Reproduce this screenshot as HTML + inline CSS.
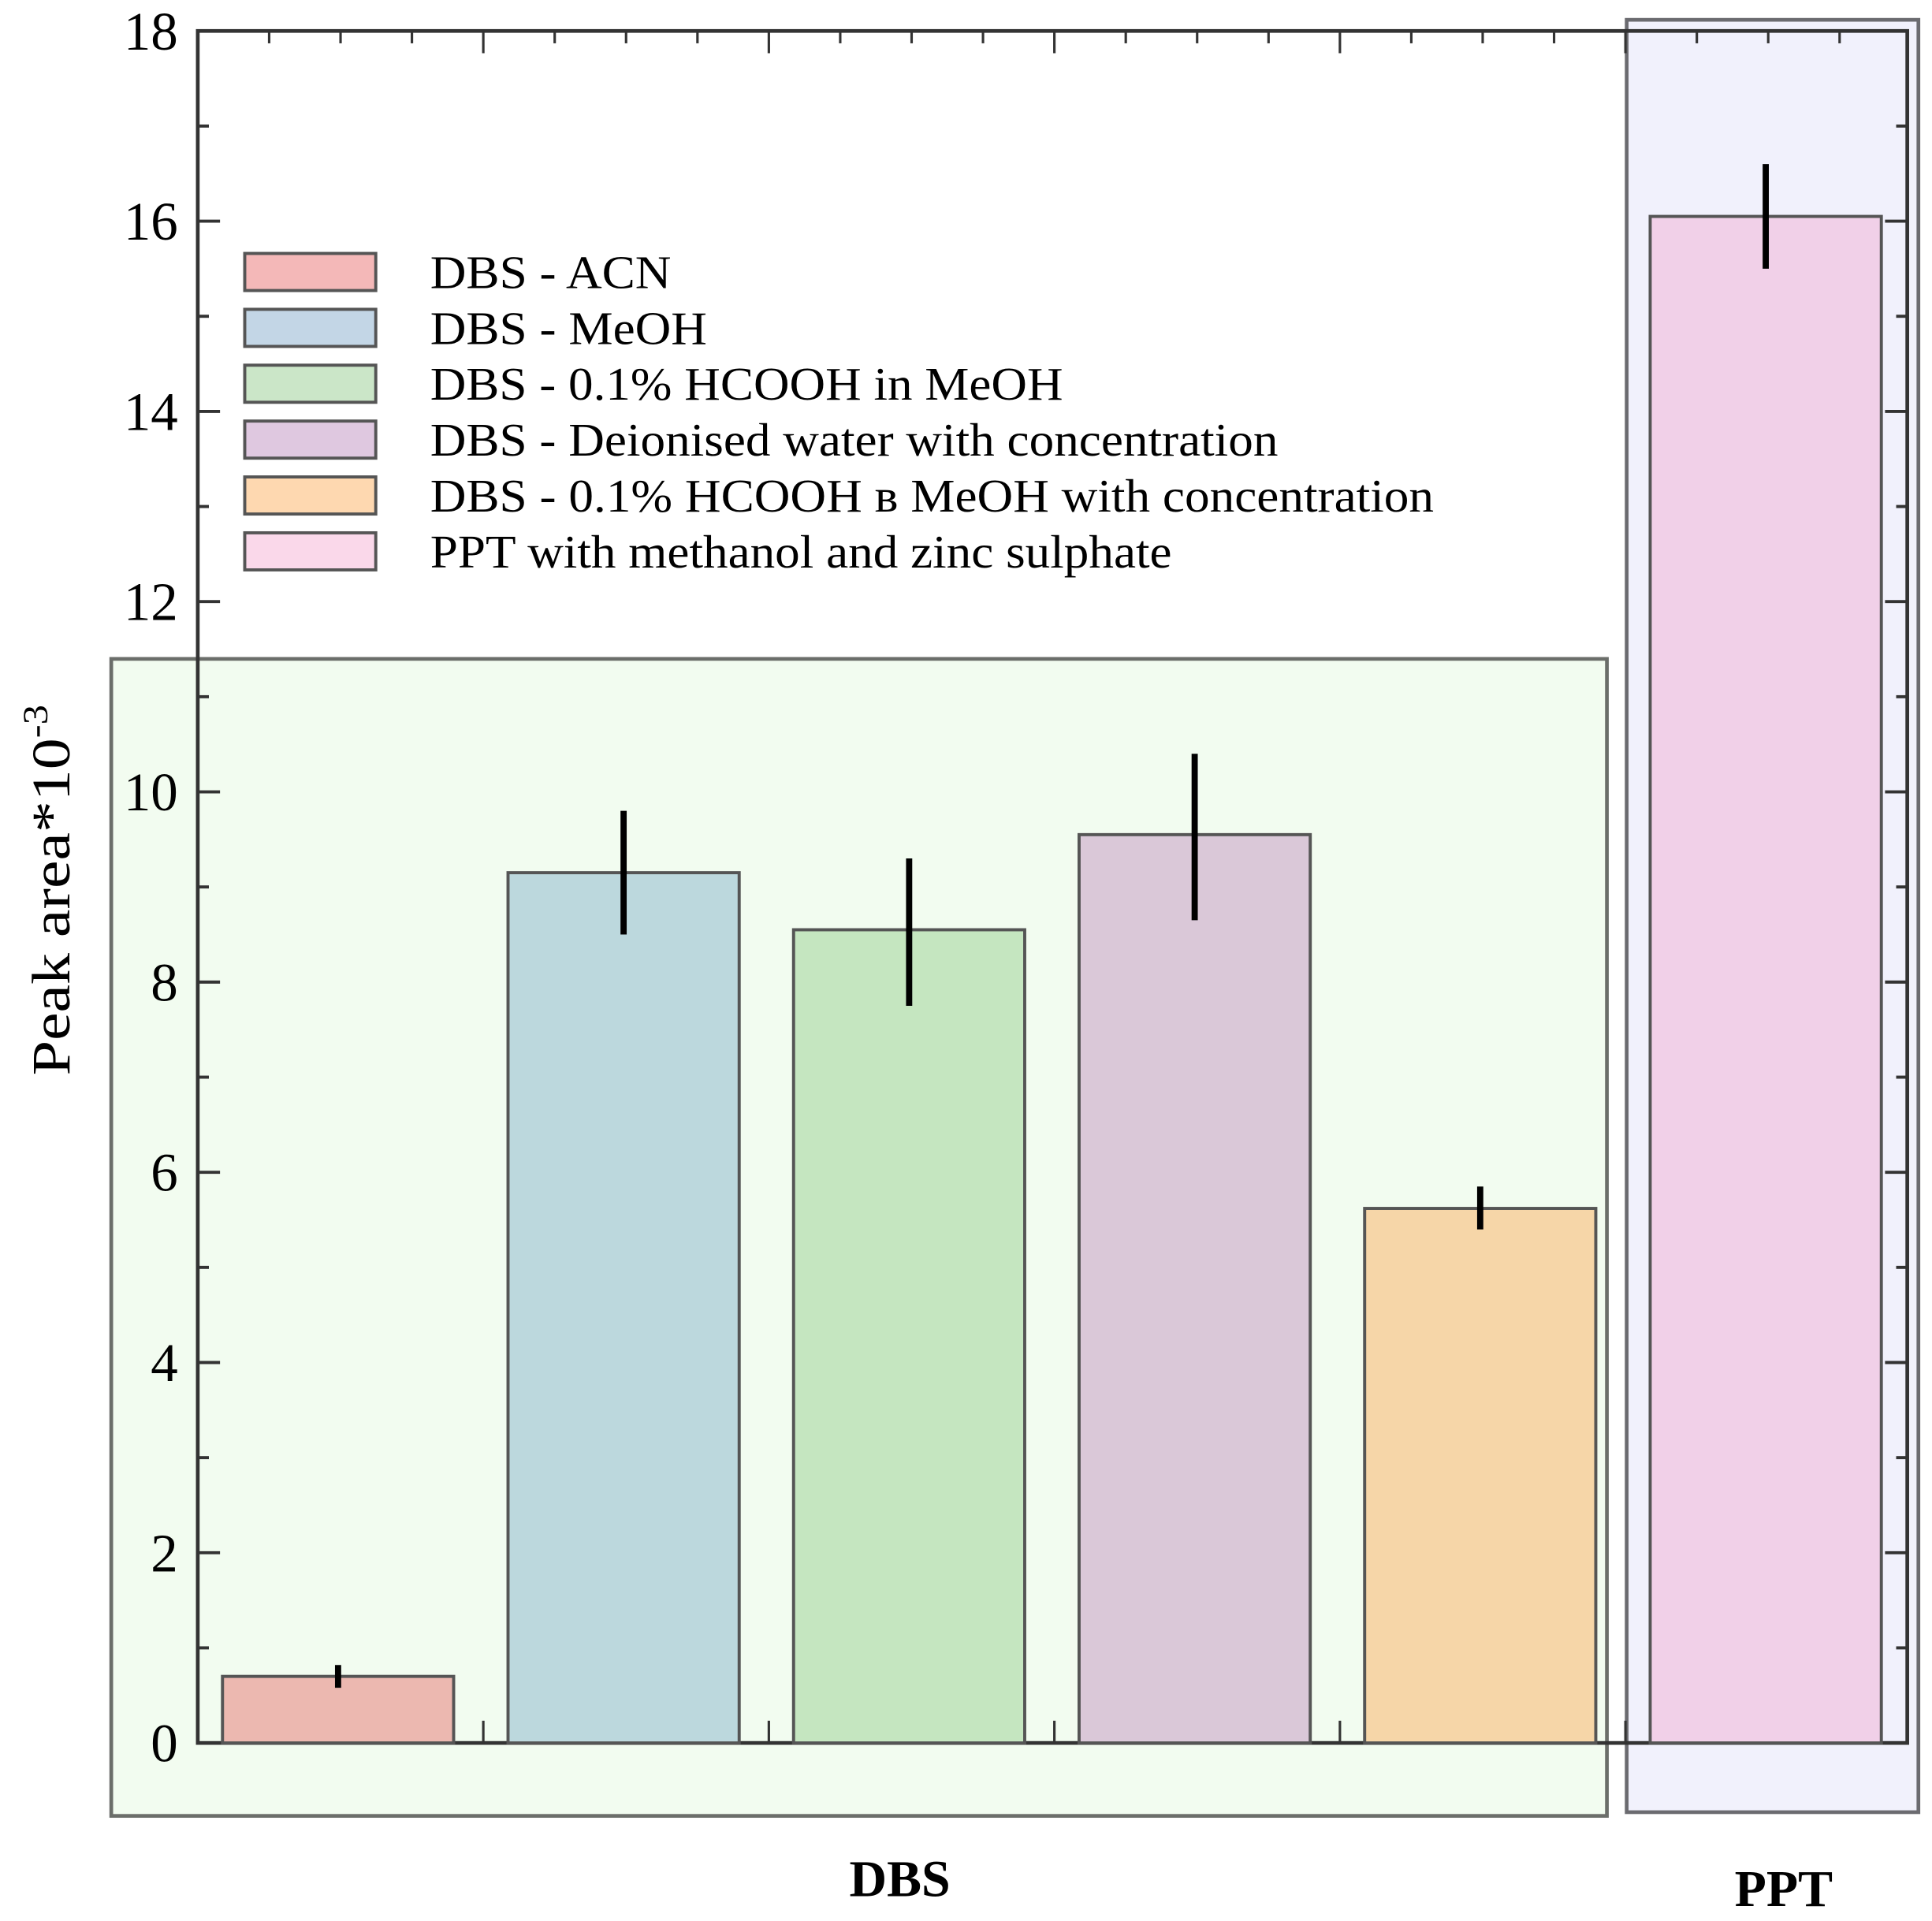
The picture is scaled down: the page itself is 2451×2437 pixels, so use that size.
<!DOCTYPE html>
<html><head><meta charset="utf-8"><style>
html,body{margin:0;padding:0;background:#fff;}
svg{display:block;font-family:"Liberation Serif",serif;}
</style></head><body>
<svg id="chart" width="2451" height="2437" viewBox="0 0 1563 1554" xmlns="http://www.w3.org/2000/svg">
<rect x="90" y="533" width="1210" height="936" fill="#f2fcf0" stroke="#6b6e6a" stroke-width="3"/>
<rect x="1316" y="16" width="236" height="1450" fill="#f1f1fc" stroke="#6b6b70" stroke-width="3"/>
<g id="axes"></g>
<g id="bars"></g>
<g id="legend"></g>
<text transform="translate(56,720) rotate(-90)" text-anchor="middle" font-size="44" textLength="300" lengthAdjust="spacingAndGlyphs">Peak area*10<tspan font-size="28" dy="-18">-3</tspan></text>
<text x="728" y="1534" text-anchor="middle" font-size="42" font-weight="bold">DBS</text>
<text x="1443" y="1542" text-anchor="middle" font-size="42" font-weight="bold">PPT</text>
</svg>
<script>
const categories = ["DBS - ACN","DBS - MeOH","DBS - 0.1% HCOOH in MeOH","DBS - Deionised water with concentration","DBS - 0.1% HCOOH в MeOH with concentration","PPT with methanol and zinc sulphate"];
const values = [0.7, 9.15, 8.55, 9.55, 5.62, 16.05];
const errLow = [0.58, 8.5, 7.75, 8.65, 5.4, 15.5];
const errHigh = [0.82, 9.8, 9.3, 10.4, 5.85, 16.6];
const yTicks = [0,2,4,6,8,10,12,14,16,18];
const fills = ["#ecb8b0","#bcd8dd","#c5e6c0","#dac8d8","#f6d6a8","#f1d0e8"];
const legendFills = ["#f4b8b8","#c3d6e6","#cbe6c8","#dfc8e0","#fed8b0","#fad8ea"];
const legendWidths = [195,224,512,686,812,600];

const NS="http://www.w3.org/2000/svg";
const X0=160, X1=1543, Y0=1410, Y1=25;
const yS=v=>Y0-(v/18)*(Y0-Y1);
const xS=i=>180+i*231;
const BW=187;
function mk(tag,attrs,parent){const e=document.createElementNS(NS,tag);for(const k in attrs)e.setAttribute(k,attrs[k]);parent.appendChild(e);return e;}
const axes=document.getElementById('axes'), bars=document.getElementById('bars'), leg=document.getElementById('legend');

values.forEach((v,i)=>{
  const r=mk('rect',{x:xS(i),y:yS(v),width:BW,height:Y0-yS(v),fill:fills[i],stroke:'#555',"stroke-width":2.5},bars);
  
  
  const cx=xS(i)+BW/2;
  const e=mk('line',{x1:cx,x2:cx,y1:yS(errHigh[i]),y2:yS(errLow[i]),stroke:'#000',"stroke-width":5},bars);
  
  
});

const f=mk('rect',{x:X0,y:Y1,width:X1-X0,height:Y0-Y1,fill:'none',stroke:'#333',"stroke-width":3},axes);


for(let v=0;v<=18;v++){
  const y=yS(v), L=v%2==0?18:9;
  mk('line',{x1:X0,x2:X0+L,y1:y,y2:y,stroke:'#333',"stroke-width":2.5},axes);
  mk('line',{x1:X1,x2:X1-L,y1:y,y2:y,stroke:'#333',"stroke-width":2.5},axes);
}
for(let k=1;k<24;k++){
  const x=X0+k*57.75;if(x>=X1)break;
  const L=k%4==0?18:10;
  mk('line',{x1:x,x2:x,y1:Y0,y2:Y0-L,stroke:'#333',"stroke-width":2},axes);
  mk('line',{x1:x,x2:x,y1:Y1,y2:Y1+L,stroke:'#333',"stroke-width":2},axes);
}
yTicks.forEach(t=>{
  const tx=mk('text',{x:144,y:yS(t)+15,"text-anchor":"end","font-size":44},axes);
  tx.textContent=t;
  
  
});

categories.forEach((c,i)=>{
  const y=220+i*45.2;
  const s=mk('rect',{x:198,y:y-15,width:106,height:30,fill:legendFills[i],stroke:'#555',"stroke-width":2.5},leg);
  
  
  const t=mk('text',{x:348,y:y+13,"font-size":38,textLength:legendWidths[i],lengthAdjust:"spacingAndGlyphs"},leg);
  t.textContent=c;
  
  
});
</script>
</body></html>
